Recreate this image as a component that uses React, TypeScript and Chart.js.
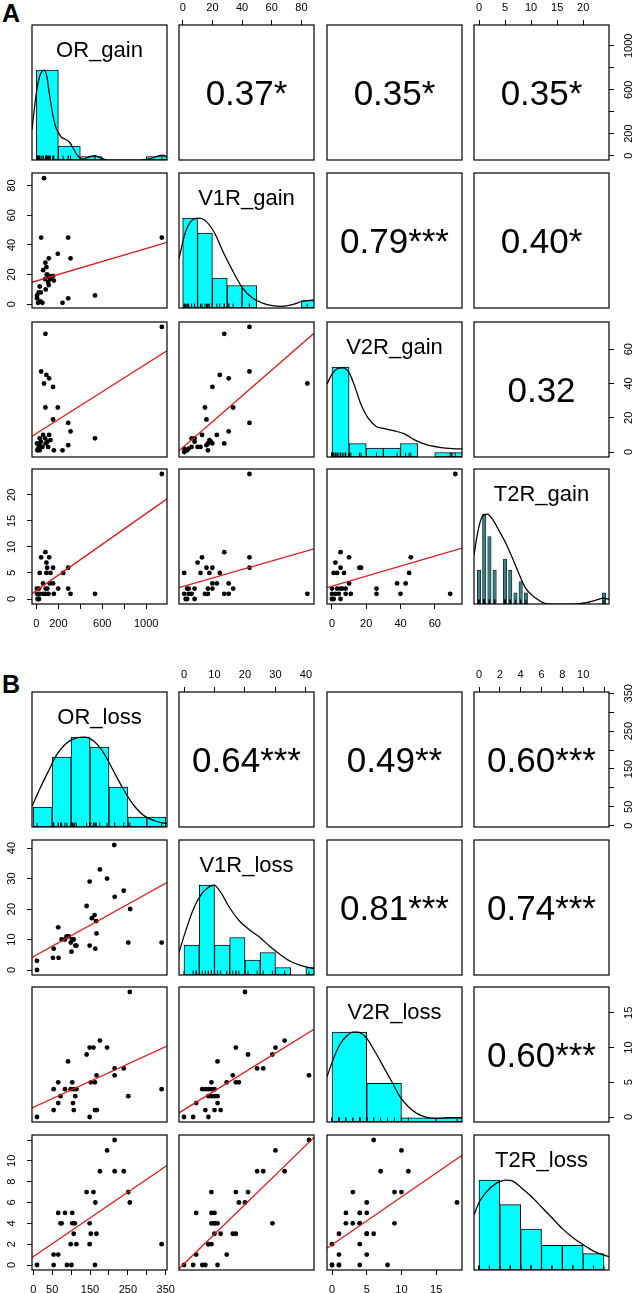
import React, { useEffect, useRef } from "react";
import { Chart, registerables } from "chart.js";

Chart.register(...registerables);

/* ---------------- data: gain matrix (A) ---------------- */
const gainNames = ["OR_gain", "V1R_gain", "V2R_gain", "T2R_gain"];
const gainLimits: [number, number][] = [[-40, 1190], [-2.5, 88.5], [-2.9, 75.9], [-0.96, 24.96]];
const gainTickSteps = [200, 20, 20, 5];
const gainTickLabels: number[][] = [[0, 200, 600, 1000], [0, 20, 40, 60, 80], [0, 20, 40, 60], [0, 5, 10, 15, 20]];
// upper panels (1,2),(1,3),(1,4),(2,3),(2,4),(3,4)
const gainCorr = ["0.37*", "0.35*", "0.35*", "0.79***", "0.40*", "0.32"];
const gainHistStart = [0, 0, 0, -0.5];
const gainHistWidth = [200, 10, 10, 1];
const gainHistOR = [26, 4, 1, 0, 0, 1];
const gainHistV1R = [12, 10, 4, 3, 3, 0, 0, 0, 1];
const gainHistV2R = [20, 3, 2, 2, 3, 0, 1, 1];
const gainHistT2R = [3, 8, 6, 3, 0, 4, 3, 1, 2, 1, 0, 0, 0, 0, 0, 0, 0, 0, 0, 0, 0, 0, 0, 0, 1];
const gainDensOR: [number, number][] = [[-40, 0.34], [-20, 0.55], [0, 0.75], [30, 0.93], [70, 1.0], [95, 0.93], [120, 0.72], [150, 0.5], [175, 0.37], [198, 0.31], [230, 0.25], [265, 0.23], [300, 0.2], [340, 0.12], [380, 0.04], [420, 0.01], [470, 0.03], [534, 0.05], [590, 0.02], [650, 0], [950, 0], [1050, 0.02], [1143, 0.055], [1190, 0.04]];
const gainDensV1R: [number, number][] = [[-2.5, 0.55], [1.6, 0.83], [6, 0.97], [11, 1.0], [16, 0.96], [21.6, 0.83], [27, 0.63], [33.8, 0.41], [40.4, 0.22], [47, 0.11], [53.8, 0.055], [60.4, 0.026], [67, 0.018], [73.8, 0.037], [80.4, 0.074], [88.5, 0.09]];
const gainDensV2R: [number, number][] = [[-2.9, 0.81], [0, 0.92], [3.5, 0.985], [6.4, 0.99], [9.9, 0.94], [13.2, 0.79], [17, 0.58], [21, 0.435], [25.8, 0.34], [30.7, 0.316], [36.5, 0.29], [42.3, 0.257], [48.2, 0.19], [55, 0.137], [62.7, 0.108], [70.5, 0.093], [75.9, 0.089]];
const gainDensT2R: [number, number][] = [[-0.96, 0.54], [-0.3, 0.78], [0.6, 0.97], [1.6, 1.0], [2.6, 0.94], [3.9, 0.81], [5.2, 0.67], [6.5, 0.5], [7.7, 0.33], [9, 0.17], [11, 0.06], [12.5, 0.01], [14, 0], [18, 0], [20.6, 0.015], [22.6, 0.045], [23.9, 0.065], [24.96, 0.05]];

const gain_OR_V1R: [number, number][] = [[70, 85], [43, 45], [290, 45], [1143, 45], [195, 34], [113, 31], [311, 31], [82, 28], [91, 25], [61, 23], [94, 20], [152, 19], [128, 17], [159, 16], [79, 17], [116, 18], [30, 12], [113, 13], [85, 10], [6, 6], [21, 8], [40, 8], [534, 6], [290, 4], [238, 1], [15, 1], [37, 2], [55, 1], [137, 19], [107, 15], [6, 4], [100, 20]];
const gain_OR_V2R: [number, number][] = [[1143, 73], [82, 69], [43, 47], [91, 45], [116, 43], [70, 40], [152, 38], [82, 26], [195, 26], [152, 19], [290, 17], [311, 12], [534, 8], [61, 10], [116, 10], [30, 8], [128, 7], [6, 5], [85, 5], [290, 4], [24, 4], [46, 3], [159, 1], [238, 1], [9, 1], [30, 1], [55, 3], [107, 3], [79, 8], [15, 2], [40, 6], [100, 6]];
const gain_V1R_V2R: [number, number][] = [[45, 73], [28, 69], [45, 47], [25, 45], [31, 43], [84, 40], [20, 38], [15, 26], [34, 26], [16, 19], [45, 17], [31, 12], [23, 10], [13, 10], [6, 8], [8, 8], [18, 7], [12, 3], [6, 3], [10, 3], [17, 5], [20, 5], [28, 5], [17, 1], [2, 1], [3, 1], [1, 0], [4, 2], [19, 6], [1, 2], [16, 4], [8, 6]];
const gain_OR_T2R: [number, number][] = [[18, 0], [24, 0], [10, 0], [6, 1], [61, 1], [85, 1], [159, 1], [311, 1], [534, 1], [30, 1], [110, 1], [5, 2], [24, 2], [85, 2], [198, 2], [290, 2], [100, 2], [61, 3], [122, 3], [152, 3], [30, 5], [91, 5], [128, 5], [244, 5], [98, 6], [152, 6], [290, 6], [91, 7], [43, 8], [116, 8], [82, 9], [1143, 24]];
const gain_V1R_T2R: [number, number][] = [[45, 24], [28, 9], [13, 8], [45, 8], [10, 7], [16, 6], [20, 6], [45, 6], [1, 5], [12, 5], [18, 5], [25, 5], [20, 3], [23, 3], [31, 3], [3, 2], [4, 2], [8, 2], [17, 2], [34, 2], [20, 2], [1, 1], [6, 1], [15, 1], [17, 1], [28, 1], [31, 1], [84, 1], [4, 1], [3, 0], [8, 0], [2, 0]];
const gain_V2R_T2R: [number, number][] = [[72, 24], [5, 9], [10, 8], [46, 8], [2, 7], [5, 6], [16, 6], [17, 6], [1, 5], [3, 5], [7, 5], [45, 5], [38, 3], [43, 3], [10, 3], [0, 2], [3, 2], [5, 2], [8, 2], [26, 2], [6, 2], [0, 1], [2, 1], [8, 1], [11, 1], [26, 1], [40, 1], [69, 1], [4, 1], [0, 0], [5, 0], [1, 0]];
// regression lines [intercept, slope]
const gainFitOR_V1R: [number, number] = [15.7, 0.0219];
const gainFitOR_V2R: [number, number] = [10.8, 0.0406];
const gainFitV1R_V2R: [number, number] = [2.63, 0.753];
const gainFitOR_T2R: [number, number] = [1.62, 0.0148];
const gainFitV1R_T2R: [number, number] = [2.37, 0.0821];
const gainFitV2R_T2R: [number, number] = [2.47, 0.0962];

/* ---------------- data: loss matrix (B) ---------------- */
const lossNames = ["OR_loss", "V1R_loss", "V2R_loss", "T2R_loss"];
const lossLimits: [number, number][] = [[-3.2, 353.2], [-1.64, 42.64], [-0.72, 18.72], [-0.48, 12.48]];
const lossTickSteps = [50, 10, 5, 2];
const lossTickLabels: number[][] = [[0, 50, 150, 250, 350], [0, 10, 20, 30, 40], [0, 5, 10, 15], [0, 2, 4, 6, 8, 10]];
const lossCorr = ["0.64***", "0.49**", "0.60***", "0.81***", "0.74***", "0.60***"];
const lossHistStart = [0, 0, 0, 0];
const lossHistWidth = [50, 5, 5, 2];
const lossHistOR = [2, 7, 9, 8, 4, 1, 1];
const lossHistV1R = [4, 12, 4, 5, 2, 3, 1, 0, 1];
const lossHistV2R = [21, 9, 1, 1];
const lossHistT2R = [11, 8, 5, 3, 3, 2];
const lossDensOR: [number, number][] = [[-3.2, 0.23], [17, 0.42], [39, 0.61], [61, 0.795], [87.5, 0.93], [114, 0.99], [136, 1.0], [158, 0.96], [185, 0.83], [211, 0.63], [238, 0.42], [264, 0.25], [291, 0.13], [322, 0.067], [353.2, 0.037]];
const lossDensV1R: [number, number][] = [[-1.64, 0.25], [0.55, 0.49], [3.3, 0.75], [6.1, 0.915], [8.8, 0.99], [9.9, 1.0], [12.1, 0.915], [14.9, 0.75], [18.2, 0.6], [21.5, 0.5], [24.8, 0.42], [28.1, 0.32], [31.4, 0.23], [34.7, 0.155], [38, 0.11], [42.64, 0.07]];
const lossDensV2R: [number, number][] = [[-0.72, 0.5], [0.14, 0.69], [1.1, 0.855], [2.1, 0.955], [3, 1.0], [3.75, 1.0], [5, 0.93], [6.2, 0.78], [7.4, 0.615], [8.6, 0.45], [9.8, 0.28], [11, 0.17], [12.2, 0.096], [13.6, 0.052], [15, 0.04], [16.7, 0.048], [18.72, 0.048]];
const lossDensT2R: [number, number][] = [[-0.48, 0.61], [0, 0.75], [0.65, 0.86], [1.6, 0.96], [2.6, 1.0], [3.2, 0.99], [4, 0.92], [5, 0.82], [6, 0.7], [7, 0.58], [8, 0.46], [9, 0.36], [10, 0.28], [11, 0.21], [12, 0.165], [12.48, 0.15]];

const loss_OR_V1R: [number, number][] = [[214, 41], [176, 33], [195, 30], [149, 29], [239, 26], [215, 24], [141, 21], [256, 20], [155, 17], [162, 18], [166, 16], [66, 14], [167, 12], [84, 10], [94, 11], [103, 10], [107, 10], [75, 10], [99, 9], [111, 8], [114, 8], [54, 7], [101, 6], [52, 4], [67, 4], [149, 8], [164, 7], [251, 9], [339, 9], [10, 3], [10, 0], [88, 11]];
const loss_OR_V2R: [number, number][] = [[255, 18], [176, 11], [195, 10], [149, 10], [159, 10], [141, 9], [92, 8], [215, 7], [239, 7], [215, 6], [167, 6], [66, 5], [103, 5], [152, 5], [163, 5], [54, 4], [84, 4], [107, 4], [114, 4], [339, 4], [72, 3], [251, 3], [66, 2], [105, 2], [54, 1], [107, 1], [163, 1], [168, 1], [10, 0], [149, 0], [99, 4], [111, 3]];
const loss_V1R_V2R: [number, number][] = [[20, 18], [33, 11], [17, 10], [30, 10], [21, 9], [11, 8], [24, 7], [26, 7], [29, 9], [41, 6], [16, 6], [14, 5], [17, 5], [18, 5], [9, 5], [6, 4], [7, 4], [8, 4], [9, 4], [10, 4], [9, 3], [10, 3], [4, 2], [11, 2], [7, 1], [10, 1], [12, 1], [0, 0], [3, 0], [8, 0], [11, 3], [8, 3]];
const loss_OR_T2R: [number, number][] = [[215, 12], [195, 11], [176, 9], [215, 9], [239, 9], [141, 7], [159, 7], [251, 7], [255, 6], [164, 6], [66, 5], [84, 5], [103, 5], [72, 4], [103, 4], [110, 4], [149, 4], [107, 3], [152, 3], [167, 3], [114, 2], [149, 2], [339, 2], [54, 1], [66, 1], [10, 0], [54, 0], [89, 0], [101, 0], [163, 0], [75, 4], [99, 2]];
const loss_V1R_T2R: [number, number][] = [[41, 12], [30, 11], [24, 9], [26, 9], [33, 9], [9, 7], [17, 7], [21, 7], [18, 6], [20, 6], [4, 5], [9, 5], [10, 5], [9, 4], [10, 4], [11, 4], [29, 4], [10, 3], [12, 3], [16, 3], [17, 3], [8, 2], [9, 2], [14, 1], [4, 1], [0, 0], [3, 0], [6, 0], [7, 0], [11, 0], [8, 2], [10, 4]];
const loss_V2R_T2R: [number, number][] = [[6, 12], [10, 11], [7, 9], [11, 9], [3, 7], [9, 7], [10, 7], [18, 6], [5, 6], [2, 5], [4, 5], [5, 5], [2, 4], [3, 4], [4, 4], [9, 4], [1, 3], [5, 3], [6, 3], [0, 2], [4, 2], [1, 1], [5, 1], [0, 0], [1, 0], [4, 0], [8, 0], [4, 5], [4, 4], [5, 3], [1, 0], [0, 0]];
const lossFitOR_V1R: [number, number] = [4.31, 0.0691];
const lossFitOR_V2R: [number, number] = [1.39, 0.025];
const lossFitV1R_V2R: [number, number] = [1.04, 0.272];
const lossFitOR_T2R: [number, number] = [0.8, 0.0248];
const lossFitV1R_T2R: [number, number] = [0.11, 0.2846];
const lossFitV2R_T2R: [number, number] = [1.94, 0.4595];

/* ---------------- layout & style ---------------- */
const FONT = "'Liberation Sans', Arial, Helvetica, sans-serif";
const PANEL = 135;
const M = 30;
const COLS = [32, 179, 327, 474];
const ROWS_A = [25, 173, 322, 469];
const ROWS_B = [692, 840, 987, 1135];
const TICK_SIZE = 11;
const TICK_LEN = 5;
const LEFT_D = 20.5;
const RIGHT_D = 20;
const TOP_D = 17.2;
const BOTTOM_D = 19.5;
const CYAN = "#00FFFF";
const RED = "#E01A1A";
const RUG_Y = 0.024;

type Matrix = {
  names: string[];
  limits: [number, number][];
  steps: number[];
  labels: number[][];
  corr: string[];
  histStart: number[];
  histWidth: number[];
  hist: number[][];
  dens: [number, number][][];
  scatter: Record<string, [number, number][]>;
  fit: Record<string, [number, number]>;
  rows: number[];
  narrow: boolean[];
};

const gainMatrix: Matrix = {
  names: gainNames,
  limits: gainLimits,
  steps: gainTickSteps,
  labels: gainTickLabels,
  corr: gainCorr,
  histStart: gainHistStart,
  histWidth: gainHistWidth,
  hist: [gainHistOR, gainHistV1R, gainHistV2R, gainHistT2R],
  dens: [gainDensOR, gainDensV1R, gainDensV2R, gainDensT2R],
  scatter: { "1,0": gain_OR_V1R, "2,0": gain_OR_V2R, "2,1": gain_V1R_V2R, "3,0": gain_OR_T2R, "3,1": gain_V1R_T2R, "3,2": gain_V2R_T2R },
  fit: { "1,0": gainFitOR_V1R, "2,0": gainFitOR_V2R, "2,1": gainFitV1R_V2R, "3,0": gainFitOR_T2R, "3,1": gainFitV1R_T2R, "3,2": gainFitV2R_T2R },
  rows: ROWS_A,
  narrow: [false, false, false, true],
};

const lossMatrix: Matrix = {
  names: lossNames,
  limits: lossLimits,
  steps: lossTickSteps,
  labels: lossTickLabels,
  corr: lossCorr,
  histStart: lossHistStart,
  histWidth: lossHistWidth,
  hist: [lossHistOR, lossHistV1R, lossHistV2R, lossHistT2R],
  dens: [lossDensOR, lossDensV1R, lossDensV2R, lossDensT2R],
  scatter: { "1,0": loss_OR_V1R, "2,0": loss_OR_V2R, "2,1": loss_V1R_V2R, "3,0": loss_OR_T2R, "3,1": loss_V1R_T2R, "3,2": loss_V2R_T2R },
  fit: { "1,0": lossFitOR_V1R, "2,0": lossFitOR_V2R, "2,1": lossFitV1R_V2R, "3,0": lossFitOR_T2R, "3,1": lossFitV1R_T2R, "3,2": lossFitV2R_T2R },
  rows: ROWS_B,
  narrow: [false, false, false, false],
};

let measureCtx: any = null;
function textWidth(t: string, size: number) {
  if (!measureCtx) measureCtx = document.createElement("canvas").getContext("2d");
  measureCtx.font = `${size}px ${FONT}`;
  return measureCtx.measureText(t).width;
}

function tickValues(lim: [number, number], step: number) {
  const out: number[] = [];
  for (let v = Math.ceil(lim[0] / step) * step; v <= lim[1] + 1e-9; v += step) out.push(Math.round(v * 1000) / 1000);
  return out;
}

function axisOptions(pos: string, lim: [number, number], step: number, shown: number[], visible: boolean) {
  const vertical = pos === "left" || pos === "right";
  let padding = 0;
  if (visible) {
    if (vertical) {
      const widest = Math.max(...shown.map((v) => textWidth(String(v), TICK_SIZE)));
      padding = (pos === "left" ? LEFT_D : RIGHT_D) - TICK_LEN - widest / 2;
    } else {
      padding = (pos === "top" ? TOP_D : BOTTOM_D) - TICK_LEN - TICK_SIZE / 2;
    }
  }
  const values = tickValues(lim, step);
  return {
    type: "linear",
    position: pos,
    display: visible,
    min: lim[0],
    max: lim[1],
    offset: false,
    grid: { display: true, drawOnChartArea: false, drawTicks: true, tickLength: TICK_LEN, color: "#000", lineWidth: 1, offset: false },
    border: { display: false },
    afterBuildTicks: (s: any) => {
      s.ticks = values.map((v) => ({ value: v }));
    },
    ticks: {
      autoSkip: false,
      color: "#000",
      font: { family: FONT, size: TICK_SIZE, lineHeight: 1 },
      padding,
      minRotation: vertical ? 90 : 0,
      maxRotation: vertical ? 90 : 0,
      crossAlign: vertical ? "center" : "near",
      callback: (v: number) => (shown.includes(v) ? String(v) : ""),
    },
    afterFit: (s: any) => {
      if (!visible) return;
      if (vertical) s.width = M;
      else s.height = M;
      s.paddingLeft = 0;
      s.paddingRight = 0;
      s.paddingTop = 0;
      s.paddingBottom = 0;
    },
  };
}

function buildConfig(m: Matrix, r: number, c: number): any {
  const hasTop = r === 0 && c % 2 === 1;
  const hasBottom = r === 3 && c % 2 === 0;
  const hasLeft = c === 0 && r % 2 === 1;
  const hasRight = c === 3 && r % 2 === 0;
  const isHist = r === c;
  const isScatter = r > c;
  const xLim = m.limits[c];
  const yLim: [number, number] = isHist ? [0, 1.5] : m.limits[r];

  const datasets: any[] = [];
  let text: string | null = null;
  let kind: "name" | "corr" = "name";

  if (isHist) {
    kind = "name";
    text = m.names[c];
    const counts = m.hist[c];
    const mx = Math.max(...counts);
    const bars = counts.map((n, i) => ({ x: m.histStart[c] + (i + 0.5) * m.histWidth[c], y: n / mx }));
    const rug = c < 3 ? m.scatter["3," + c].map((p) => p[0]) : m.scatter["3,0"].map((p) => p[1]);
    const narrow = m.narrow[c];
    datasets.push({
      type: "line",
      data: m.dens[c].map(([x, y]) => ({ x, y })),
      borderColor: "#000",
      borderWidth: 1.25,
      pointRadius: 0,
      cubicInterpolationMode: "monotone",
      fill: false,
      clip: 0,
    });
    datasets.push({
      type: "scatter",
      data: rug.map((v) => ({ x: v, y: RUG_Y })),
      pointStyle: "line",
      pointRotation: 90,
      pointRadius: 2.2,
      pointBorderColor: "#000",
      pointBorderWidth: 1,
      clip: 0,
    });
    datasets.push({
      type: "bar",
      data: bars,
      backgroundColor: narrow ? "#3A8080" : CYAN,
      borderColor: narrow ? "#0E2626" : "#000",
      borderWidth: narrow ? 0.8 : 1,
      borderSkipped: false,
      barThickness: "flex",
      categoryPercentage: 1,
      barPercentage: narrow ? 0.66 : 1,
      clip: 0,
    });
  } else if (isScatter) {
    const key = r + "," + c;
    const [a, b] = m.fit[key];
    datasets.push({
      type: "line",
      data: [
        { x: xLim[0], y: a + b * xLim[0] },
        { x: xLim[1], y: a + b * xLim[1] },
      ],
      borderColor: RED,
      borderWidth: 1.3,
      pointRadius: 0,
      fill: false,
      clip: 0,
    });
    datasets.push({
      type: "scatter",
      data: m.scatter[key].map(([x, y]) => ({ x, y })),
      pointRadius: 2.4,
      pointBackgroundColor: "#000",
      pointBorderColor: "#000",
      pointBorderWidth: 0,
    });
  } else {
    kind = "corr";
    const idx = r === 0 ? c - 1 : r === 1 ? c + 1 : 5;
    text = m.corr[idx];
  }

  const deco = {
    id: "panelDeco",
    afterDraw(chart: any) {
      const { ctx, chartArea: a } = chart;
      ctx.save();
      ctx.fillStyle = "#000";
      ctx.textAlign = "center";
      ctx.textBaseline = "alphabetic";
      const cx = (a.left + a.right) / 2;
      if (text) {
        if (kind === "corr") {
          ctx.font = `35px ${FONT}`;
          ctx.fillText(text, cx, (a.top + a.bottom) / 2 + 12.5);
        } else {
          ctx.font = `22px ${FONT}`;
          ctx.fillText(text, cx, a.top + 32);
        }
      }
      ctx.strokeStyle = "#000";
      ctx.lineWidth = 1.2;
      ctx.strokeRect(a.left, a.top, a.right - a.left, a.bottom - a.top);
      ctx.restore();
    },
  };

  return {
    type: "scatter",
    data: { datasets },
    options: {
      responsive: false,
      animation: false,
      events: [],
      devicePixelRatio: 1,
      layout: {
        padding: {
          left: hasLeft ? 0 : M,
          right: hasRight ? 0 : M,
          top: hasTop ? 0 : M,
          bottom: hasBottom ? 0 : M,
        },
      },
      plugins: { legend: { display: false }, tooltip: { enabled: false } },
      scales: {
        x: axisOptions(hasTop ? "top" : "bottom", xLim, m.steps[c], m.labels[c], hasTop || hasBottom),
        y: axisOptions(hasRight ? "right" : "left", yLim, isHist ? 0.5 : m.steps[r], isHist ? [] : m.labels[r], hasLeft || hasRight),
      },
    },
    plugins: [deco],
  };
}

function Panel({ m, r, c }: { m: Matrix; r: number; c: number }) {
  const ref = useRef<HTMLCanvasElement>(null);
  useEffect(() => {
    const chart = new Chart(ref.current as HTMLCanvasElement, buildConfig(m, r, c));
    return () => chart.destroy();
  }, [m, r, c]);
  const S = PANEL + 2 * M;
  return (
    <canvas
      ref={ref}
      width={S}
      height={S}
      style={{ position: "absolute", left: COLS[c] - M, top: m.rows[r] - M, width: S, height: S }}
    />
  );
}

function MatrixPanels({ m }: { m: Matrix }) {
  const items: React.ReactElement[] = [];
  for (let r = 0; r < 4; r++) for (let c = 0; c < 4; c++) items.push(<Panel key={r + "-" + c} m={m} r={r} c={c} />);
  return <>{items}</>;
}

export default function App() {
  const letter: React.CSSProperties = {
    position: "absolute",
    left: 2,
    fontFamily: FONT,
    fontWeight: "bold",
    fontSize: 25,
    lineHeight: "25px",
    color: "#000",
  };
  return (
    <div style={{ position: "absolute", left: 0, top: 0, width: 633, height: 1293, overflow: "hidden", background: "#fff" }}>
      <div style={{ ...letter, top: 1 }}>A</div>
      <div style={{ ...letter, top: 672 }}>B</div>
      <MatrixPanels m={gainMatrix} />
      <MatrixPanels m={lossMatrix} />
    </div>
  );
}
